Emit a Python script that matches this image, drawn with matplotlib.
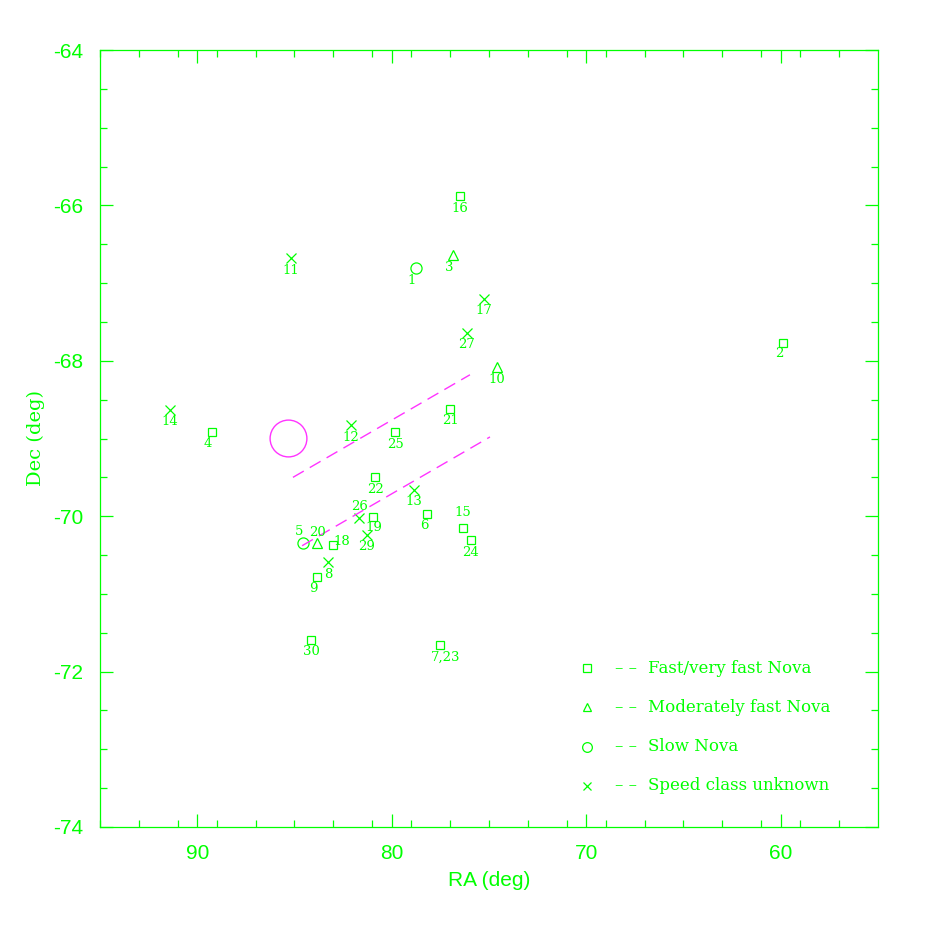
import numpy as np
import matplotlib.pyplot as plt

plt.rcParams['axes.unicode_minus'] = False

# novae positions (RA, Dec in deg), grouped by speed class
fast_id = ['16', '2', '4', '21', '25', '22', '19', '6', '15', '24', '18', '9', '30', '7,23']
fast_ra = [76.49, 59.88, 89.24, 77.00, 79.83, 80.86, 80.96, 78.19, 76.34, 75.93, 83.02, 83.84, 84.15, 77.52]
fast_dec = [-65.88, -67.77, -68.92, -68.62, -68.92, -69.50, -70.01, -69.97, -70.15, -70.31, -70.37, -70.78, -71.59, -71.66]

mod_id = ['3', '10', '20']
mod_ra = [76.85, 74.59, 83.84]
mod_dec = [-66.64, -68.08, -70.34]

slow_id = ['1', '5']
slow_ra = [78.75, 84.56]
slow_dec = [-66.81, -70.34]

unk_id = ['11', '17', '27', '14', '12', '13', '26', '29', '8']
unk_ra = [85.18, 75.26, 76.13, 91.40, 82.10, 78.86, 81.68, 81.27, 83.28]
unk_dec = [-66.68, -67.20, -67.64, -68.63, -68.83, -69.66, -70.02, -70.24, -70.59]

# magenta reference circle and the two dashed lines
circ_ra, circ_dec = 85.33, -68.99
line1_ra = [85.08, 75.98]
line1_dec = [-69.50, -68.18]
line2_ra = [84.61, 74.95]
line2_dec = [-70.38, -68.98]

legend_labels = ['Fast/very fast Nova', 'Moderately fast Nova', 'Slow Nova', 'Speed class unknown']

# label offsets in pixels (dx, dy), default is just below the mark
offsets = {'3': (-4, -12), '1': (-4, -12), '4': (-4, -11), '2': (-4, -11), '6': (-3, -12),
           '19': (1, -11), '26': (0, 11), '15': (0, 15), '5': (-4, 11), '20': (0, 10),
           '18': (9, 3), '9': (-4, -12), '7,23': (6, -12)}

G = '#00ff00'
M = '#ff33ff'
DPI = 100

fig = plt.figure(figsize=(9.26, 9.26), dpi=DPI)
ax = fig.add_axes([100 / 926, 99 / 926, 778 / 926, 777 / 926])

ax.set_xlim(95, 55)
ax.set_ylim(-74, -64)

ms_kw = dict(linestyle='none', markerfacecolor='none', markeredgecolor=G, markeredgewidth=0.9)
ax.plot(fast_ra, fast_dec, marker='s', markersize=6, **ms_kw)
ax.plot(mod_ra, mod_dec, marker='^', markersize=7, **ms_kw)
ax.plot(slow_ra, slow_dec, marker='o', markersize=8, **ms_kw)
ax.plot(unk_ra, unk_dec, marker='x', markersize=6.5, **ms_kw)

ax.plot([circ_ra], [circ_dec], marker='o', markersize=26.5, linestyle='none',
        markerfacecolor='none', markeredgecolor=M, markeredgewidth=1.0)
ax.plot(line1_ra, line1_dec, color=M, lw=1.0, dashes=(9, 5))
ax.plot(line2_ra, line2_dec, color=M, lw=1.0, dashes=(9, 5))

pt = 72 / DPI
for ids, ras, decs in [(fast_id, fast_ra, fast_dec), (mod_id, mod_ra, mod_dec),
                       (slow_id, slow_ra, slow_dec), (unk_id, unk_ra, unk_dec)]:
    for n, r, d in zip(ids, ras, decs):
        dx, dy = offsets.get(n, (0, -12))
        ax.annotate(n, (r, d), xytext=(dx * pt, dy * pt), textcoords='offset points',
                    ha='center', va='center', color=G, fontsize=9.5, family='DejaVu Serif')

# hand-made legend
leg_marks = ['s', '^', 'o', 'x']
leg_ms = [5.5, 6, 7, 5.5]
for i, (mk, lab) in enumerate(zip(leg_marks, legend_labels)):
    y = 0.2046 - i * 0.0505
    ax.plot([0.626], [y], marker=mk, markersize=leg_ms[i], transform=ax.transAxes, **ms_kw)
    ax.text(0.662, y, '\u2013 \u2013', transform=ax.transAxes, color=G, fontsize=12,
            family='DejaVu Serif', va='center', ha='left')
    ax.text(0.704, y, lab, transform=ax.transAxes, color=G, fontsize=12,
            family='DejaVu Serif', va='center', ha='left')

for s in ax.spines.values():
    s.set_color(G)
    s.set_linewidth(0.9)

ax.set_xticks([90, 80, 70, 60])
ax.set_xticks(np.arange(55, 96, 2)[1:], minor=True)
ax.set_yticks(np.arange(-74, -63, 2))
ax.set_yticks(np.arange(-74, -63.9, 0.5), minor=True)
ax.tick_params(which='both', direction='in', top=True, right=True, color=G, width=0.9,
               labelcolor=G, labelsize=15)
ax.tick_params(which='major', length=9.5)
ax.tick_params(which='minor', length=5)
ax.tick_params(axis='x', pad=12)
ax.tick_params(axis='y', pad=12)
for lab in ax.get_xticklabels() + ax.get_yticklabels():
    lab.set_family('Liberation Sans')

ax.set_xlabel('RA (deg)', color=G, fontsize=15, family='Liberation Sans', labelpad=6)
ax.set_ylabel('Dec (deg)', color=G, fontsize=14, family='DejaVu Serif', labelpad=6)

fig.savefig('out.png', dpi=DPI)
